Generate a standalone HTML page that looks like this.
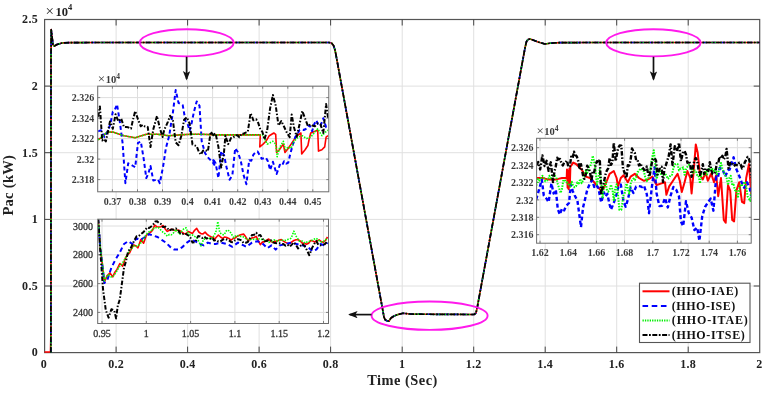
<!DOCTYPE html>
<html><head><meta charset="utf-8"><title>Pac plot</title>
<style>html,body{margin:0;padding:0;background:#fff}svg{display:block}</style></head>
<body>
<svg width="764" height="393" viewBox="0 0 764 393">
<defs>
<clipPath id="c1"><rect x="98" y="86.5" width="230.5" height="105"/></clipPath>
<clipPath id="c2"><rect x="98" y="219.5" width="230" height="104"/></clipPath>
<clipPath id="c3"><rect x="537" y="138.8" width="214" height="104"/></clipPath>
<marker id="ah" markerWidth="10" markerHeight="8" refX="8" refY="3.7" orient="auto" markerUnits="userSpaceOnUse"><path d="M0,0 L9.5,3.7 L0,7.4 L2.2,3.7 z" fill="#111"/></marker>
</defs>
<rect width="764" height="393" fill="#fff"/>
<g stroke="#e0e0e0" stroke-width="1"><line x1="116.1" y1="19.5" x2="116.1" y2="352.6"/><line x1="187.6" y1="19.5" x2="187.6" y2="352.6"/><line x1="259.1" y1="19.5" x2="259.1" y2="352.6"/><line x1="330.6" y1="19.5" x2="330.6" y2="352.6"/><line x1="402.2" y1="19.5" x2="402.2" y2="352.6"/><line x1="473.7" y1="19.5" x2="473.7" y2="352.6"/><line x1="545.2" y1="19.5" x2="545.2" y2="352.6"/><line x1="616.7" y1="19.5" x2="616.7" y2="352.6"/><line x1="688.2" y1="19.5" x2="688.2" y2="352.6"/><line x1="44.6" y1="286.0" x2="759.7" y2="286.0"/><line x1="44.6" y1="219.4" x2="759.7" y2="219.4"/><line x1="44.6" y1="152.7" x2="759.7" y2="152.7"/><line x1="44.6" y1="86.1" x2="759.7" y2="86.1"/></g>
<rect x="44.6" y="19.5" width="715.1" height="333.1" fill="none" stroke="#555" stroke-width="1.2"/>
<g stroke="#444" stroke-width="1"><line x1="116.1" y1="352.6" x2="116.1" y2="346.6"/><line x1="116.1" y1="19.5" x2="116.1" y2="25.5"/><line x1="187.6" y1="352.6" x2="187.6" y2="346.6"/><line x1="187.6" y1="19.5" x2="187.6" y2="25.5"/><line x1="259.1" y1="352.6" x2="259.1" y2="346.6"/><line x1="259.1" y1="19.5" x2="259.1" y2="25.5"/><line x1="330.6" y1="352.6" x2="330.6" y2="346.6"/><line x1="330.6" y1="19.5" x2="330.6" y2="25.5"/><line x1="402.2" y1="352.6" x2="402.2" y2="346.6"/><line x1="402.2" y1="19.5" x2="402.2" y2="25.5"/><line x1="473.7" y1="352.6" x2="473.7" y2="346.6"/><line x1="473.7" y1="19.5" x2="473.7" y2="25.5"/><line x1="545.2" y1="352.6" x2="545.2" y2="346.6"/><line x1="545.2" y1="19.5" x2="545.2" y2="25.5"/><line x1="616.7" y1="352.6" x2="616.7" y2="346.6"/><line x1="616.7" y1="19.5" x2="616.7" y2="25.5"/><line x1="688.2" y1="352.6" x2="688.2" y2="346.6"/><line x1="688.2" y1="19.5" x2="688.2" y2="25.5"/><line x1="44.6" y1="286.0" x2="50.6" y2="286.0"/><line x1="759.7" y1="286.0" x2="753.7" y2="286.0"/><line x1="44.6" y1="219.4" x2="50.6" y2="219.4"/><line x1="759.7" y1="219.4" x2="753.7" y2="219.4"/><line x1="44.6" y1="152.7" x2="50.6" y2="152.7"/><line x1="759.7" y1="152.7" x2="753.7" y2="152.7"/><line x1="44.6" y1="86.1" x2="50.6" y2="86.1"/><line x1="759.7" y1="86.1" x2="753.7" y2="86.1"/></g>
<g font-family="'Liberation Serif', serif" font-weight="bold" font-size="12" letter-spacing="0.3" fill="#222"><text x="43.8" y="368.2" text-anchor="middle">0</text><text x="116.1" y="368.2" text-anchor="middle">0.2</text><text x="187.6" y="368.2" text-anchor="middle">0.4</text><text x="259.1" y="368.2" text-anchor="middle">0.6</text><text x="330.6" y="368.2" text-anchor="middle">0.8</text><text x="402.2" y="368.2" text-anchor="middle">1</text><text x="473.7" y="368.2" text-anchor="middle">1.2</text><text x="545.2" y="368.2" text-anchor="middle">1.4</text><text x="616.7" y="368.2" text-anchor="middle">1.6</text><text x="688.2" y="368.2" text-anchor="middle">1.8</text><text x="759.3" y="368.2" text-anchor="middle">2</text><text x="38" y="356.4" text-anchor="end">0</text><text x="38" y="289.8" text-anchor="end">0.5</text><text x="38" y="223.2" text-anchor="end">1</text><text x="38" y="156.5" text-anchor="end">1.5</text><text x="38" y="89.9" text-anchor="end">2</text><text x="38" y="23.3" text-anchor="end">2.5</text></g>
<text x="45.5" y="15.5" font-family="'Liberation Serif', serif" font-size="12" font-weight="bold" fill="#222"><tspan font-weight="normal" font-size="15">×</tspan><tspan dx="1.5" font-size="12.5">10</tspan><tspan dy="-5.5" font-size="8.5">4</tspan></text>
<text x="367.3" y="384.6" textLength="70" lengthAdjust="spacing" font-family="'Liberation Serif', serif" font-size="14.4" font-weight="bold" fill="#222">Time (Sec)</text>
<text transform="translate(12.9,215.6) rotate(-90)" textLength="60.6" lengthAdjust="spacing" font-family="'Liberation Serif', serif" font-size="14.6" font-weight="bold" fill="#222">Pac (kW)</text>
<g fill="none" stroke-linejoin="round"><polyline points="44.5,352.0 50.5,352.0 51.0,330.0 51.0,60.0 51.2,29.5 52.0,36.0 53.0,45.0 54.5,46.0 57.0,44.5 62.0,43.0 70.0,42.6 100.0,42.5 200.0,42.5 329.0,42.5 331.5,43.0 333.5,45.5 335.0,50.0 336.0,55.0 384.0,317.0 385.0,319.5 387.0,321.0 389.0,321.0 391.0,318.0 394.0,316.0 398.0,314.5 403.0,313.2 410.0,314.0 430.0,314.3 474.0,314.5 476.0,313.0 477.5,306.0 525.0,48.0 526.5,41.5 528.0,39.5 530.0,39.0 533.0,40.0 538.0,42.0 545.0,44.0 550.0,43.2 560.0,42.6 600.0,42.5 759.5,42.5" stroke="#f00" stroke-width="1.65"/><polyline points="50.9,352.5 51.0,60.0 51.2,29.5 52.0,36.0 53.0,45.0 54.5,46.0 57.0,44.5 62.0,43.0 70.0,42.6 100.0,42.5 200.0,42.5 329.0,42.5 331.5,43.0 333.5,45.5 335.0,50.0 336.0,55.0 384.0,317.0 385.0,319.5 387.0,321.0 389.0,321.0 391.0,318.0 394.0,316.0 398.0,314.5 403.0,313.2 410.0,314.0 430.0,314.3 474.0,314.5 476.0,313.0 477.5,306.0 525.0,48.0 526.5,41.5 528.0,39.5 530.0,39.0 533.0,40.0 538.0,42.0 545.0,44.0 550.0,43.2 560.0,42.6 600.0,42.5 759.5,42.5" stroke="#00f" stroke-width="1.65" stroke-dasharray="5 4"/><polyline points="50.9,352.5 51.0,60.0 51.2,29.5 52.0,36.0 53.0,45.0 54.5,46.0 57.0,44.5 62.0,43.0 70.0,42.6 100.0,42.5 200.0,42.5 329.0,42.5 331.5,43.0 333.5,45.5 335.0,50.0 336.0,55.0 384.0,317.0 385.0,319.5 387.0,321.0 389.0,321.0 391.0,318.0 394.0,316.0 398.0,314.5 403.0,313.2 410.0,314.0 430.0,314.3 474.0,314.5 476.0,313.0 477.5,306.0 525.0,48.0 526.5,41.5 528.0,39.5 530.0,39.0 533.0,40.0 538.0,42.0 545.0,44.0 550.0,43.2 560.0,42.6 600.0,42.5 759.5,42.5" stroke="#0c0" stroke-width="1.65" stroke-dasharray="1.5 1.5"/><polyline points="50.9,352.5 51.0,60.0 51.2,29.5 52.0,36.0 53.0,45.0 54.5,46.0 57.0,44.5 62.0,43.0 70.0,42.6 100.0,42.5 200.0,42.5 329.0,42.5 331.5,43.0 333.5,45.5 335.0,50.0 336.0,55.0 384.0,317.0 385.0,319.5 387.0,321.0 389.0,321.0 391.0,318.0 394.0,316.0 398.0,314.5 403.0,313.2 410.0,314.0 430.0,314.3 474.0,314.5 476.0,313.0 477.5,306.0 525.0,48.0 526.5,41.5 528.0,39.5 530.0,39.0 533.0,40.0 538.0,42.0 545.0,44.0 550.0,43.2 560.0,42.6 600.0,42.5 759.5,42.5" stroke="#000" stroke-width="1.65" stroke-dasharray="5.5 1.5 1.8 1.5"/></g>
<g fill="none" stroke="#ff1aec" stroke-width="1.9"><ellipse cx="186.7" cy="42.8" rx="47" ry="13.6"/><ellipse cx="653.4" cy="42.8" rx="47.2" ry="13.6"/><ellipse cx="429.6" cy="315.7" rx="58" ry="14.2"/></g>
<g stroke="#111" stroke-width="1.7" fill="none"><line x1="186.6" y1="56.8" x2="186.6" y2="79" marker-end="url(#ah)"/><line x1="653.5" y1="56.8" x2="653.5" y2="79.3" marker-end="url(#ah)"/><line x1="371.5" y1="314.6" x2="349.6" y2="314.6" marker-end="url(#ah)"/></g>
<rect x="97.7" y="86.2" width="231.1" height="105.6" fill="#fff"/><g stroke="#dedede" stroke-width="1"><line x1="112.4" y1="86.2" x2="112.4" y2="191.8"/><line x1="137.5" y1="86.2" x2="137.5" y2="191.8"/><line x1="162.5" y1="86.2" x2="162.5" y2="191.8"/><line x1="187.6" y1="86.2" x2="187.6" y2="191.8"/><line x1="212.6" y1="86.2" x2="212.6" y2="191.8"/><line x1="237.7" y1="86.2" x2="237.7" y2="191.8"/><line x1="262.7" y1="86.2" x2="262.7" y2="191.8"/><line x1="287.8" y1="86.2" x2="287.8" y2="191.8"/><line x1="312.8" y1="86.2" x2="312.8" y2="191.8"/><line x1="97.7" y1="97.6" x2="328.8" y2="97.6"/><line x1="97.7" y1="118.1" x2="328.8" y2="118.1"/><line x1="97.7" y1="138.6" x2="328.8" y2="138.6"/><line x1="97.7" y1="159.1" x2="328.8" y2="159.1"/><line x1="97.7" y1="179.6" x2="328.8" y2="179.6"/></g><g stroke="#666" stroke-width="0.8"><line x1="112.4" y1="191.8" x2="112.4" y2="189.3"/><line x1="112.4" y1="86.2" x2="112.4" y2="88.7"/><line x1="137.5" y1="191.8" x2="137.5" y2="189.3"/><line x1="137.5" y1="86.2" x2="137.5" y2="88.7"/><line x1="162.5" y1="191.8" x2="162.5" y2="189.3"/><line x1="162.5" y1="86.2" x2="162.5" y2="88.7"/><line x1="187.6" y1="191.8" x2="187.6" y2="189.3"/><line x1="187.6" y1="86.2" x2="187.6" y2="88.7"/><line x1="212.6" y1="191.8" x2="212.6" y2="189.3"/><line x1="212.6" y1="86.2" x2="212.6" y2="88.7"/><line x1="237.7" y1="191.8" x2="237.7" y2="189.3"/><line x1="237.7" y1="86.2" x2="237.7" y2="88.7"/><line x1="262.7" y1="191.8" x2="262.7" y2="189.3"/><line x1="262.7" y1="86.2" x2="262.7" y2="88.7"/><line x1="287.8" y1="191.8" x2="287.8" y2="189.3"/><line x1="287.8" y1="86.2" x2="287.8" y2="88.7"/><line x1="312.8" y1="191.8" x2="312.8" y2="189.3"/><line x1="312.8" y1="86.2" x2="312.8" y2="88.7"/><line x1="97.7" y1="97.6" x2="100.2" y2="97.6"/><line x1="328.8" y1="97.6" x2="326.3" y2="97.6"/><line x1="97.7" y1="118.1" x2="100.2" y2="118.1"/><line x1="328.8" y1="118.1" x2="326.3" y2="118.1"/><line x1="97.7" y1="138.6" x2="100.2" y2="138.6"/><line x1="328.8" y1="138.6" x2="326.3" y2="138.6"/><line x1="97.7" y1="159.1" x2="100.2" y2="159.1"/><line x1="328.8" y1="159.1" x2="326.3" y2="159.1"/><line x1="97.7" y1="179.6" x2="100.2" y2="179.6"/><line x1="328.8" y1="179.6" x2="326.3" y2="179.6"/></g><g font-family="'Liberation Serif', serif" font-size="10" font-weight="bold" fill="#3a3a3a"><text x="112.4" y="204.9" text-anchor="middle">0.37</text><text x="137.5" y="204.9" text-anchor="middle">0.38</text><text x="162.5" y="204.9" text-anchor="middle">0.39</text><text x="187.6" y="204.9" text-anchor="middle">0.4</text><text x="212.6" y="204.9" text-anchor="middle">0.41</text><text x="237.7" y="204.9" text-anchor="middle">0.42</text><text x="262.7" y="204.9" text-anchor="middle">0.43</text><text x="287.8" y="204.9" text-anchor="middle">0.44</text><text x="312.8" y="204.9" text-anchor="middle">0.45</text><text x="94.2" y="101.2" text-anchor="end">2.326</text><text x="94.2" y="121.7" text-anchor="end">2.324</text><text x="94.2" y="142.2" text-anchor="end">2.322</text><text x="94.2" y="162.7" text-anchor="end">2.32</text><text x="94.2" y="183.2" text-anchor="end">2.318</text><text x="97.8" y="82.7" font-size="10.5"><tspan font-weight="normal" font-size="13">×</tspan><tspan dx="0.5">10</tspan><tspan dy="-4" font-size="7.5">4</tspan></text></g>
<g fill="none" stroke-linejoin="round" clip-path="url(#c1)">
<polyline points="98.2,139.9 101.6,137.1 107.2,132.1 112.8,132.1 124.0,135.7 135.2,137.7 146.3,134.3 157.5,134.3 168.7,135.7 179.9,134.9 191.1,134.3 202.3,134.3 214.9,134.9 221.2,134.9 238.0,134.9 260.3,134.9 259.8,146.9 263.1,144.1 265.9,141.3 269.3,135.7 273.8,133.0 275.7,134.3 276.6,152.5 279.4,149.7 283.3,144.1 285.0,152.5 288.3,148.3 291.1,144.1 293.9,139.9 297.3,135.7 300.9,133.0 301.7,153.9 305.1,149.7 307.9,145.5 309.3,138.5 310.7,133.0 317.7,130.2 318.5,151.1 321.9,149.7 324.7,146.9 326.1,137.1 328.0,135.7" stroke="#f00" stroke-width="1.6"/>
<polyline points="98.2,131.4 101.0,130.2 104.4,137.1 106.5,133.3 108.6,129.4 110.7,122.5 112.8,111.8 114.9,109.6 117.0,104.4 119.8,121.6 122.6,143.1 125.4,183.2 128.2,163.3 131.0,164.7 133.1,166.0 135.2,167.3 138.0,142.8 140.8,141.6 143.6,158.1 146.3,178.1 148.4,173.4 150.5,165.9 153.3,180.6 156.1,179.8 158.0,179.4 159.8,183.2 163.1,166.5 165.9,148.1 169.3,135.4 171.1,123.2 172.9,112.6 175.7,90.1 178.5,102.8 180.6,104.0 182.7,105.1 185.5,121.0 187.6,123.9 189.7,130.7 191.8,122.2 193.9,112.0 196.7,101.4 199.5,105.8 201.7,141.3 205.1,153.2 207.9,157.4 210.0,159.6 212.1,161.4 214.9,165.7 212.8,158.5 215.6,163.3 218.4,178.0 221.2,151.2 224.0,155.0 226.8,168.6 229.6,179.7 232.4,175.0 235.2,148.3 238.0,152.3 240.8,161.0 243.6,175.1 246.4,184.2 249.2,160.2 251.3,160.7 253.4,154.6 255.5,152.5 257.6,151.5 259.7,155.2 261.7,158.7 263.8,158.3 265.9,157.6 268.0,161.4 270.1,170.1 272.9,161.8 274.8,168.0 276.6,174.0 279.9,164.7 282.0,165.8 284.1,161.2 286.2,163.7 288.3,162.6 290.4,153.3 292.5,145.9 295.3,136.9 297.4,134.4 299.5,130.1 301.6,129.5 303.7,130.0 305.8,129.0 307.9,125.6 310.0,126.2 312.1,131.2 314.2,124.2 316.3,120.3 318.4,125.1 320.5,125.9 323.3,118.3 326.1,127.1 328.0,126.0" stroke="#00f" stroke-width="2.0" stroke-dasharray="4 2.8"/>
<polyline points="98.2,139.9 101.6,137.1 107.2,132.1 112.8,132.1 124.0,135.7 135.2,137.7 146.3,134.3 157.5,134.3 168.7,135.7 179.9,134.9 191.1,134.3 202.3,134.3 214.9,134.9 221.2,134.9 238.0,134.9 263.1,134.9 264.5,138.5 267.3,144.1 270.1,142.7 272.9,141.3 275.7,144.1 277.1,156.7 279.9,146.9 283.3,141.3 285.5,149.7 288.3,146.9 291.1,148.3 293.9,141.3 298.1,137.1 302.3,135.7 306.5,138.5 310.7,137.1 314.1,133.0 317.7,128.8 321.9,135.7 326.1,131.6 328.0,130.2" stroke="#0f0" stroke-width="1.6" stroke-dasharray="1.5 1.3"/>
<polyline points="98.2,116.9 99.9,106.4 102.2,140.5 104.0,138.9 105.8,141.5 107.9,131.7 110.0,121.4 112.8,128.8 115.6,114.3 118.4,121.5 121.2,118.6 124.0,127.1 126.1,127.1 128.2,127.3 131.0,128.6 133.1,119.3 135.2,111.1 138.0,119.4 140.8,126.3 142.9,124.8 145.0,126.5 147.7,126.9 150.5,147.0 153.3,129.3 155.2,122.4 157.0,116.0 159.8,128.0 162.6,137.0 164.3,129.6 165.9,126.3 168.0,121.6 170.1,115.7 172.9,120.6 175.7,142.4 178.5,145.2 181.3,136.0 184.1,119.7 186.9,117.3 189.7,123.8 192.5,144.5 194.6,145.4 196.7,146.1 198.8,151.6 200.9,154.7 203.0,150.8 205.1,150.0 207.9,151.2 210.7,131.7 213.5,135.3 212.8,134.9 215.6,133.5 218.4,146.8 221.2,167.6 224.0,152.2 225.4,135.8 228.2,144.1 231.0,138.1 233.1,137.8 235.2,135.4 237.3,135.3 239.4,137.3 241.5,133.6 243.6,133.7 245.7,132.6 247.8,131.9 250.6,113.2 253.4,120.3 256.2,119.3 258.3,123.1 260.3,129.4 262.4,131.9 264.5,139.4 267.3,129.3 270.1,108.4 272.9,95.1 275.7,105.5 278.5,125.5 281.3,121.0 284.1,126.8 286.9,132.8 289.7,137.2 291.7,114.6 293.9,127.0 296.7,136.8 299.5,124.5 302.3,111.0 305.1,118.5 307.9,126.0 310.7,124.3 312.8,125.8 314.9,126.2 317.7,123.3 320.5,124.4 323.3,133.0 326.1,104.1 328.0,117.6" stroke="#000" stroke-width="2.0" stroke-dasharray="4.5 1.8 1.5 1.8"/>
</g>

<rect x="97.7" y="86.2" width="231.1" height="105.6" fill="none" stroke="#6c6c6c" stroke-width="1"/>
<rect x="97.7" y="219.2" width="230.8" height="104.3" fill="#fff"/><g stroke="#dedede" stroke-width="1"><line x1="102.0" y1="219.2" x2="102.0" y2="323.5"/><line x1="146.3" y1="219.2" x2="146.3" y2="323.5"/><line x1="190.6" y1="219.2" x2="190.6" y2="323.5"/><line x1="234.9" y1="219.2" x2="234.9" y2="323.5"/><line x1="279.2" y1="219.2" x2="279.2" y2="323.5"/><line x1="323.5" y1="219.2" x2="323.5" y2="323.5"/><line x1="97.7" y1="226.0" x2="328.5" y2="226.0"/><line x1="97.7" y1="254.8" x2="328.5" y2="254.8"/><line x1="97.7" y1="283.6" x2="328.5" y2="283.6"/><line x1="97.7" y1="312.4" x2="328.5" y2="312.4"/></g><g stroke="#666" stroke-width="0.8"><line x1="102.0" y1="323.5" x2="102.0" y2="321.0"/><line x1="102.0" y1="219.2" x2="102.0" y2="221.7"/><line x1="146.3" y1="323.5" x2="146.3" y2="321.0"/><line x1="146.3" y1="219.2" x2="146.3" y2="221.7"/><line x1="190.6" y1="323.5" x2="190.6" y2="321.0"/><line x1="190.6" y1="219.2" x2="190.6" y2="221.7"/><line x1="234.9" y1="323.5" x2="234.9" y2="321.0"/><line x1="234.9" y1="219.2" x2="234.9" y2="221.7"/><line x1="279.2" y1="323.5" x2="279.2" y2="321.0"/><line x1="279.2" y1="219.2" x2="279.2" y2="221.7"/><line x1="323.5" y1="323.5" x2="323.5" y2="321.0"/><line x1="323.5" y1="219.2" x2="323.5" y2="221.7"/><line x1="97.7" y1="226.0" x2="100.2" y2="226.0"/><line x1="328.5" y1="226.0" x2="326.0" y2="226.0"/><line x1="97.7" y1="254.8" x2="100.2" y2="254.8"/><line x1="328.5" y1="254.8" x2="326.0" y2="254.8"/><line x1="97.7" y1="283.6" x2="100.2" y2="283.6"/><line x1="328.5" y1="283.6" x2="326.0" y2="283.6"/><line x1="97.7" y1="312.4" x2="100.2" y2="312.4"/><line x1="328.5" y1="312.4" x2="326.0" y2="312.4"/></g><g font-family="'Liberation Serif', serif" font-size="10" fill="#333" stroke="#333" stroke-width="0.3"><text x="102.0" y="337.4" text-anchor="middle">0.95</text><text x="146.3" y="337.4" text-anchor="middle">1</text><text x="190.6" y="337.4" text-anchor="middle">1.05</text><text x="234.9" y="337.4" text-anchor="middle">1.1</text><text x="279.2" y="337.4" text-anchor="middle">1.15</text><text x="323.5" y="337.4" text-anchor="middle">1.2</text><text x="93.0" y="229.6" text-anchor="end">3000</text><text x="93.0" y="258.4" text-anchor="end">2800</text><text x="93.0" y="287.2" text-anchor="end">2600</text><text x="93.0" y="316.0" text-anchor="end">2400</text></g>
<g fill="none" stroke-linejoin="round" clip-path="url(#c2)">
<polyline points="98.2,218.4 100.2,247.5 102.3,263.7 104.4,282.1 107.2,275.5 110.0,272.9 112.8,276.9 114.9,272.2 117.0,269.4 119.8,263.5 122.6,266.3 125.4,258.0 127.5,254.7 129.6,252.9 131.7,248.2 133.8,244.9 135.9,246.0 138.0,247.8 140.8,239.6 143.6,243.2 146.3,235.4 148.4,233.6 150.5,232.4 152.6,230.1 154.7,225.1 156.8,226.7 158.9,227.0 161.0,226.7 163.1,225.5 165.2,228.9 167.3,231.4 169.4,230.2 171.5,229.2 173.6,230.1 175.7,230.8 177.8,230.0 179.9,230.7 182.0,232.1 184.1,233.7 186.2,233.5 188.3,231.5 190.4,232.5 192.5,233.4 194.6,230.3 196.7,228.4 198.8,232.0 200.9,233.6 203.0,233.9 205.1,232.1 207.2,234.5 209.3,235.9 211.4,237.0 213.5,237.5 214.2,239.8 216.3,237.2 218.4,235.0 220.5,237.0 222.6,238.4 224.7,237.0 226.8,237.6 228.9,238.4 231.0,240.1 233.1,238.6 235.2,238.0 237.3,236.2 239.4,235.3 241.5,234.5 243.6,234.1 245.7,236.8 247.8,240.3 249.9,239.7 252.0,237.9 254.1,237.5 256.2,236.4 258.3,240.7 260.3,244.7 262.4,242.1 264.5,241.6 266.6,240.2 268.7,239.0 270.8,241.6 272.9,242.3 275.0,241.3 277.1,241.1 279.2,240.0 281.3,239.6 283.4,241.1 285.5,242.4 287.6,243.4 289.7,243.6 291.8,241.9 293.9,240.5 296.0,239.8 298.1,239.8 300.2,241.0 302.3,243.1 304.4,243.3 306.5,244.3 308.6,243.3 310.7,240.5 312.8,241.1 314.9,242.0 317.0,241.0 319.1,239.9 321.2,241.6 323.3,242.3 325.4,240.5 327.5,237.0" stroke="#f00" stroke-width="1.6"/>
<polyline points="98.2,218.8 100.2,246.8 104.4,283.1 107.2,280.3 111.4,267.7 115.6,259.4 119.8,252.4 124.0,244.0 128.2,241.2 132.4,244.0 136.6,238.4 140.8,239.8 145.0,237.0 149.1,234.2 153.3,235.6 157.5,237.0 161.7,239.8 165.9,242.6 170.1,246.8 174.3,249.6 178.5,249.6 182.7,246.8 186.9,242.6 191.1,239.8 195.3,241.2 199.5,244.0 203.7,245.4 207.9,242.6 212.1,244.0 215.6,244.0 221.2,242.6 226.8,244.0 232.4,246.8 238.0,242.6 243.6,245.4 246.4,246.8 252.0,242.6 257.6,241.2 263.1,244.0 267.3,248.2 271.5,245.4 275.7,249.6 279.9,245.4 285.5,244.0 291.1,242.6 296.7,244.0 302.3,245.4 307.9,246.8 312.1,251.0 316.3,249.6 320.5,244.0 324.7,245.4 327.5,242.6" stroke="#00f" stroke-width="2.0" stroke-dasharray="4.5 3.2"/>
<polyline points="98.2,218.7 100.2,246.6 102.3,263.0 104.4,280.9 106.5,276.7 108.6,274.7 110.7,276.8 112.8,276.9 114.9,274.1 117.0,270.7 119.1,267.0 121.2,264.8 123.3,261.8 125.4,257.9 127.5,254.8 129.6,250.4 131.7,248.4 133.8,246.1 135.9,246.1 138.0,246.0 140.1,243.4 142.2,241.6 144.3,237.5 146.3,234.6 148.4,232.1 150.5,231.1 152.6,229.6 154.7,227.5 156.8,227.8 158.9,227.9 161.0,230.3 163.1,232.3 165.2,233.8 167.3,236.1 169.4,234.4 171.5,234.8 173.6,232.7 175.7,229.3 177.8,231.9 179.9,234.2 182.0,230.6 184.1,228.5 186.1,227.8 188.3,233.6 190.4,235.0 192.5,235.0 194.6,236.4 196.7,237.6 198.8,241.4 200.9,246.0 203.7,239.1 205.8,239.1 207.9,237.6 210.7,239.1 214.2,235.6 216.2,230.7 217.8,221.5 219.8,232.6 221.9,234.4 224.0,234.9 226.8,230.1 229.6,230.9 231.7,234.4 233.8,237.7 235.9,235.6 238.0,235.7 240.1,236.4 242.2,236.4 244.3,237.3 246.4,239.2 249.2,239.9 252.0,239.2 254.8,239.4 257.6,239.1 260.3,238.7 263.1,240.0 265.9,240.4 268.7,242.4 271.5,241.5 274.3,239.9 277.1,240.9 279.9,240.5 282.7,240.2 285.5,240.4 288.3,239.2 291.1,238.3 293.9,231.2 296.2,236.4 299.5,241.3 302.3,241.1 305.1,243.1 307.9,241.6 310.7,241.1 313.5,239.3 316.3,238.3 318.4,240.2 320.5,241.9 322.6,242.1 324.7,240.5 327.5,238.4" stroke="#0f0" stroke-width="1.6" stroke-dasharray="1.5 1.3"/>
<polyline points="98.2,219.0 100.2,249.4 103.0,289.0 105.8,310.2 108.6,317.6 111.4,309.3 114.2,310.2 116.1,318.5 117.8,305.6 119.8,299.4 121.7,285.2 124.0,267.7 126.1,260.8 128.2,251.0 130.3,249.2 132.4,244.3 134.5,240.1 136.6,236.3 138.7,236.1 140.8,234.1 142.9,232.6 145.0,230.5 147.0,227.5 149.1,228.0 151.2,226.5 153.3,224.4 155.3,221.4 157.1,221.3 158.9,222.9 161.0,224.0 163.1,227.1 165.2,226.6 167.3,228.2 169.4,230.5 171.5,229.4 173.6,229.4 175.7,228.4 177.8,229.4 179.9,233.0 182.0,234.5 184.1,233.2 186.2,234.1 188.3,235.3 190.4,237.7 192.5,242.6 195.3,242.1 198.1,236.1 200.2,236.4 202.3,238.0 204.4,236.6 206.5,238.6 208.6,238.0 210.7,238.7 212.4,237.9 214.2,240.6 216.3,240.0 218.4,241.6 220.5,241.4 222.6,239.7 224.7,238.9 226.8,239.5 228.9,240.4 231.0,241.9 233.1,242.2 235.2,240.2 237.3,239.3 239.4,239.6 241.5,240.2 243.6,243.0 245.7,242.8 247.8,242.0 249.9,238.3 252.0,235.1 254.1,234.7 256.2,232.7 258.3,235.5 260.3,235.1 262.4,238.5 264.5,241.3 266.6,241.0 268.7,240.0 270.8,240.1 272.9,242.3 275.0,243.1 277.1,243.2 279.2,243.3 281.3,243.8 283.4,244.0 285.5,245.7 287.6,244.8 289.7,246.7 291.8,244.6 293.9,242.3 296.0,245.1 298.1,248.4 300.2,246.2 302.3,243.9 304.4,245.8 306.5,249.4 309.3,255.2 312.1,247.9 314.2,244.0 316.3,241.1 318.4,244.8 320.5,245.4 322.6,244.8 324.7,244.2 327.5,241.2" stroke="#000" stroke-width="2.0" stroke-dasharray="4.5 1.8 1.5 1.8"/>
</g>

<rect x="97.7" y="219.2" width="230.8" height="104.3" fill="none" stroke="#6c6c6c" stroke-width="1"/>
<rect x="536.6" y="138.3" width="214.6" height="104.9" fill="#fff"/><g stroke="#dedede" stroke-width="1"><line x1="540.0" y1="138.3" x2="540.0" y2="243.2"/><line x1="568.2" y1="138.3" x2="568.2" y2="243.2"/><line x1="596.4" y1="138.3" x2="596.4" y2="243.2"/><line x1="624.6" y1="138.3" x2="624.6" y2="243.2"/><line x1="652.8" y1="138.3" x2="652.8" y2="243.2"/><line x1="681.0" y1="138.3" x2="681.0" y2="243.2"/><line x1="709.2" y1="138.3" x2="709.2" y2="243.2"/><line x1="737.4" y1="138.3" x2="737.4" y2="243.2"/><line x1="536.6" y1="147.7" x2="751.2" y2="147.7"/><line x1="536.6" y1="165.1" x2="751.2" y2="165.1"/><line x1="536.6" y1="182.5" x2="751.2" y2="182.5"/><line x1="536.6" y1="199.9" x2="751.2" y2="199.9"/><line x1="536.6" y1="217.3" x2="751.2" y2="217.3"/><line x1="536.6" y1="234.7" x2="751.2" y2="234.7"/></g><g stroke="#666" stroke-width="0.8"><line x1="540.0" y1="243.2" x2="540.0" y2="240.7"/><line x1="540.0" y1="138.3" x2="540.0" y2="140.8"/><line x1="568.2" y1="243.2" x2="568.2" y2="240.7"/><line x1="568.2" y1="138.3" x2="568.2" y2="140.8"/><line x1="596.4" y1="243.2" x2="596.4" y2="240.7"/><line x1="596.4" y1="138.3" x2="596.4" y2="140.8"/><line x1="624.6" y1="243.2" x2="624.6" y2="240.7"/><line x1="624.6" y1="138.3" x2="624.6" y2="140.8"/><line x1="652.8" y1="243.2" x2="652.8" y2="240.7"/><line x1="652.8" y1="138.3" x2="652.8" y2="140.8"/><line x1="681.0" y1="243.2" x2="681.0" y2="240.7"/><line x1="681.0" y1="138.3" x2="681.0" y2="140.8"/><line x1="709.2" y1="243.2" x2="709.2" y2="240.7"/><line x1="709.2" y1="138.3" x2="709.2" y2="140.8"/><line x1="737.4" y1="243.2" x2="737.4" y2="240.7"/><line x1="737.4" y1="138.3" x2="737.4" y2="140.8"/><line x1="536.6" y1="147.7" x2="539.1" y2="147.7"/><line x1="751.2" y1="147.7" x2="748.7" y2="147.7"/><line x1="536.6" y1="165.1" x2="539.1" y2="165.1"/><line x1="751.2" y1="165.1" x2="748.7" y2="165.1"/><line x1="536.6" y1="182.5" x2="539.1" y2="182.5"/><line x1="751.2" y1="182.5" x2="748.7" y2="182.5"/><line x1="536.6" y1="199.9" x2="539.1" y2="199.9"/><line x1="751.2" y1="199.9" x2="748.7" y2="199.9"/><line x1="536.6" y1="217.3" x2="539.1" y2="217.3"/><line x1="751.2" y1="217.3" x2="748.7" y2="217.3"/><line x1="536.6" y1="234.7" x2="539.1" y2="234.7"/><line x1="751.2" y1="234.7" x2="748.7" y2="234.7"/></g><g font-family="'Liberation Serif', serif" font-size="10" font-weight="bold" fill="#3a3a3a"><text x="540.0" y="256.2" text-anchor="middle">1.62</text><text x="568.2" y="256.2" text-anchor="middle">1.64</text><text x="596.4" y="256.2" text-anchor="middle">1.66</text><text x="624.6" y="256.2" text-anchor="middle">1.68</text><text x="652.8" y="256.2" text-anchor="middle">1.7</text><text x="681.0" y="256.2" text-anchor="middle">1.72</text><text x="709.2" y="256.2" text-anchor="middle">1.74</text><text x="737.4" y="256.2" text-anchor="middle">1.76</text><text x="533.6" y="151.3" text-anchor="end">2.326</text><text x="533.6" y="168.7" text-anchor="end">2.324</text><text x="533.6" y="186.1" text-anchor="end">2.322</text><text x="533.6" y="203.5" text-anchor="end">2.32</text><text x="533.6" y="220.9" text-anchor="end">2.318</text><text x="533.6" y="238.3" text-anchor="end">2.316</text><text x="536.5" y="134.8" font-size="10.5"><tspan font-weight="normal" font-size="13">×</tspan><tspan dx="0.5">10</tspan><tspan dy="-4" font-size="7.5">4</tspan></text></g>
<g fill="none" stroke-linejoin="round" clip-path="url(#c3)">
<polyline points="536.2,178.0 542.4,178.0 548.0,179.4 556.4,179.4 562.0,178.0 566.7,178.0 567.0,169.6 567.6,187.8 568.1,171.0 568.7,189.2 569.3,169.0 569.8,186.4 570.4,166.8 573.2,162.6 576.0,164.0 578.8,166.8 581.6,169.6 585.8,176.6 590.0,178.0 594.2,182.2 598.4,187.8 601.2,190.6 604.0,187.8 606.8,180.8 609.6,173.8 613.8,171.0 616.6,178.0 618.0,186.4 620.8,178.0 623.6,175.2 627.8,182.2 630.6,176.6 634.8,173.8 639.0,178.0 644.0,180.8 648.2,179.4 652.4,176.6 656.6,185.0 660.8,183.6 665.0,182.2 666.4,194.8 669.2,186.4 672.0,182.2 674.8,178.0 677.6,173.8 679.8,180.8 681.8,192.0 684.6,182.2 687.4,171.0 690.2,178.0 691.6,193.4 693.8,169.6 695.8,144.4 697.7,152.8 700.0,175.2 702.8,179.4 705.6,172.4 707.8,180.8 711.2,173.8 714.0,182.2 716.2,175.2 718.2,196.2 721.0,178.0 723.8,220.0 725.7,222.8 728.0,185.0 730.2,190.6 732.2,220.0 734.1,221.4 736.4,190.6 739.2,182.2 742.0,201.8 744.2,203.2 746.2,178.0 749.0,164.0 750.4,183.6 751.2,194.8" stroke="#f00" stroke-width="2.0"/>
<polyline points="536.2,199.4 539.0,189.6 541.8,179.6 543.8,195.7 546.6,198.7 548.6,202.1 551.4,183.4 553.6,193.6 555.8,189.8 557.8,209.2 559.9,214.6 562.0,208.5 564.1,210.4 566.2,205.8 569.0,203.0 570.9,184.6 572.8,191.1 574.6,195.3 577.4,200.6 578.8,210.9 581.0,227.1 583.0,207.6 584.9,199.9 587.2,190.0 590.0,183.2 592.1,180.1 594.2,186.9 596.3,184.7 598.4,188.3 601.2,202.4 604.0,192.5 605.6,196.5 607.3,193.8 609.6,204.5 611.0,209.7 613.8,202.9 616.6,194.0 618.7,185.6 620.8,184.5 623.6,202.0 625.7,206.7 627.8,199.8 630.6,187.5 633.4,193.0 636.2,186.4 638.3,186.1 640.4,186.4 642.2,187.1 644.0,185.7 646.8,194.2 649.0,213.2 651.8,187.4 654.6,167.2 656.6,193.6 659.4,206.1 662.2,205.7 665.0,198.0 667.8,207.4 670.6,195.6 673.4,187.0 676.2,189.7 679.0,196.4 680.9,221.5 683.2,226.2 686.0,201.2 688.8,213.2 691.6,217.6 694.4,230.0 697.2,227.5 699.4,240.9 702.2,216.4 705.0,207.0 707.8,202.7 710.6,198.6 713.4,210.7 716.2,176.7 717.9,177.6 719.6,168.3 722.4,168.8 725.2,176.5 728.0,170.2 729.6,169.7 731.3,164.0 733.6,157.3 735.8,167.9 738.6,174.2 741.4,181.7 744.2,187.8 747.0,182.3 749.8,188.3 751.2,196.2" stroke="#00f" stroke-width="2.4" stroke-dasharray="4 2.6"/>
<polyline points="536.2,185.7 538.2,179.0 539.6,180.6 541.0,178.0 542.4,175.9 543.8,177.2 545.2,181.3 546.6,180.4 548.0,180.1 549.4,175.8 550.8,178.3 552.2,176.2 553.6,175.4 555.0,175.8 556.4,177.6 557.8,184.2 559.2,188.3 560.6,193.0 562.0,188.8 563.4,179.7 564.8,180.2 566.2,182.3 567.6,182.6 569.0,185.0 570.4,186.6 571.8,181.7 573.2,186.3 574.6,187.3 576.0,186.4 577.4,182.4 578.8,183.4 580.2,178.9 581.6,183.3 583.0,180.4 584.4,175.6 585.8,170.8 587.2,172.9 588.6,167.4 590.0,167.0 591.4,162.6 592.8,155.7 595.0,166.1 597.0,184.4 598.4,177.4 599.8,169.7 601.2,182.0 602.6,197.3 604.0,185.5 605.4,179.9 606.8,189.5 608.2,191.6 609.6,189.5 611.0,184.7 612.4,189.3 613.8,200.2 615.2,188.1 616.6,184.3 618.0,194.5 619.4,209.8 621.3,209.8 623.6,195.0 625.0,192.6 626.4,183.5 627.8,188.2 629.2,193.8 630.6,183.9 632.0,180.1 633.4,178.6 634.8,180.1 636.2,177.0 637.6,172.1 639.0,171.0 640.4,168.4 641.8,169.3 644.0,171.5 645.4,178.2 646.8,181.1 648.2,178.8 649.6,174.3 651.8,159.3 653.8,150.3 655.2,163.0 656.6,178.9 658.0,174.6 659.4,168.9 660.8,174.1 662.2,172.4 663.6,174.9 665.0,173.5 666.4,175.5 667.8,178.9 669.2,177.9 670.6,174.9 672.0,174.7 673.4,168.2 674.8,164.3 676.2,163.8 677.6,164.1 679.0,170.5 680.4,168.5 681.8,168.4 683.2,167.3 684.6,174.8 686.0,169.4 687.4,166.8 688.8,164.7 690.2,166.0 691.6,168.3 693.0,173.8 694.4,170.5 695.8,170.6 697.2,175.1 698.6,175.3 700.0,183.4 701.4,174.0 702.8,175.0 704.2,174.6 705.6,170.7 707.0,174.4 708.4,169.4 709.8,168.5 711.2,170.7 712.6,168.7 714.0,171.3 715.4,169.4 716.8,174.1 718.2,172.2 719.6,168.2 721.0,163.0 722.4,168.6 723.8,172.2 725.2,175.6 726.6,177.9 728.0,185.1 729.4,177.9 730.8,175.8 732.2,185.1 733.6,184.6 735.0,190.3 736.4,189.8 737.8,198.0 739.2,189.7 740.6,184.5 742.0,185.1 743.4,184.0 744.8,181.7 746.2,186.9 747.6,196.4 749.0,198.7 750.4,201.0 751.2,192.0" stroke="#0f0" stroke-width="2.0" stroke-dasharray="1.5 1.3"/>
<polyline points="536.2,165.1 538.2,162.0 540.2,169.4 542.4,155.4 544.6,166.1 546.6,160.8 548.6,170.9 550.8,162.3 553.0,182.0 554.4,171.6 555.8,166.2 557.2,157.7 558.6,159.5 560.0,158.9 561.4,163.0 562.8,165.4 564.2,162.4 565.6,162.1 567.0,160.6 568.4,167.0 569.8,166.4 571.2,156.7 572.6,158.3 574.0,151.6 575.4,155.2 576.8,156.4 578.2,160.9 579.6,169.4 581.0,164.2 583.0,175.4 584.4,178.8 585.8,174.3 587.2,165.6 588.6,168.1 590.0,172.0 591.4,181.0 592.8,171.1 594.2,172.2 595.6,164.3 597.0,161.2 598.4,162.6 599.8,159.4 601.2,194.9 602.6,187.6 604.0,181.8 605.4,174.8 606.8,170.6 608.2,168.4 609.6,158.1 611.0,164.9 612.4,162.5 613.8,142.7 615.7,161.3 618.0,148.4 619.6,145.5 621.3,145.6 623.0,168.6 625.0,174.0 626.4,178.1 627.8,165.3 629.2,165.5 630.6,160.1 632.0,148.5 633.4,151.2 634.8,153.0 636.2,160.5 637.6,160.3 639.0,165.5 640.4,163.2 641.8,166.7 644.0,169.7 645.4,169.8 646.8,166.5 648.2,174.3 649.6,176.6 651.0,167.6 652.4,160.0 654.6,158.1 656.0,160.5 657.4,174.6 658.8,170.9 660.2,167.2 661.6,166.8 663.0,182.0 664.4,168.7 665.8,165.4 667.2,160.8 668.6,156.6 670.6,144.4 672.5,165.0 674.8,146.2 677.0,151.1 679.0,142.7 680.9,161.1 683.2,151.8 684.6,151.0 686.0,154.5 687.4,162.9 688.8,160.9 690.2,164.1 691.6,176.8 693.0,167.1 694.4,160.3 695.8,158.1 697.2,160.6 698.6,170.4 700.0,174.8 701.4,171.0 702.8,164.2 704.2,174.0 705.6,168.2 707.0,170.0 708.4,170.8 709.8,162.1 711.2,169.8 712.6,174.1 714.0,173.6 715.4,172.2 716.8,163.2 718.2,163.4 719.6,156.6 721.0,158.7 722.4,155.8 723.8,159.4 725.2,157.3 726.6,149.0 728.5,168.3 730.3,162.9 732.2,162.5 733.6,166.1 735.0,165.2 736.4,164.9 737.8,165.5 739.2,162.7 740.6,164.3 742.0,168.4 743.4,166.7 744.8,162.3 746.2,159.8 747.6,156.9 749.0,158.9 750.4,164.7 751.2,178.0" stroke="#000" stroke-width="2.4" stroke-dasharray="4.5 1.8 1.5 1.8"/>
</g>

<rect x="536.6" y="138.3" width="214.6" height="104.9" fill="none" stroke="#6c6c6c" stroke-width="1"/>
<rect x="639.5" y="283.2" width="110.5" height="59.3" fill="#fff" stroke="#555" stroke-width="1.1"/>
<g fill="none" stroke-width="2"><line x1="642.5" y1="291.3" x2="669.5" y2="291.3" stroke="#f00"/><line x1="642.5" y1="305.9" x2="669.5" y2="305.9" stroke="#00f" stroke-dasharray="5.6 3.6"/><line x1="642.5" y1="320.4" x2="669.5" y2="320.4" stroke="#0e0" stroke-dasharray="1.3 1.1"/><line x1="642.5" y1="335.0" x2="669.5" y2="335.0" stroke="#000" stroke-dasharray="5 1.5 1.8 1.5"/></g>
<g font-family="'Liberation Serif', serif" font-size="12" font-weight="bold" fill="#111"><text x="671.8" y="295.3" textLength="66.5" lengthAdjust="spacing">(HHO-IAE)</text><text x="671.8" y="309.9" textLength="63.5" lengthAdjust="spacing">(HHO-ISE)</text><text x="671.8" y="324.4" textLength="76" lengthAdjust="spacing">(HHO-ITAE)</text><text x="671.8" y="339.0" textLength="73" lengthAdjust="spacing">(HHO-ITSE)</text></g>
</svg>
</body></html>
